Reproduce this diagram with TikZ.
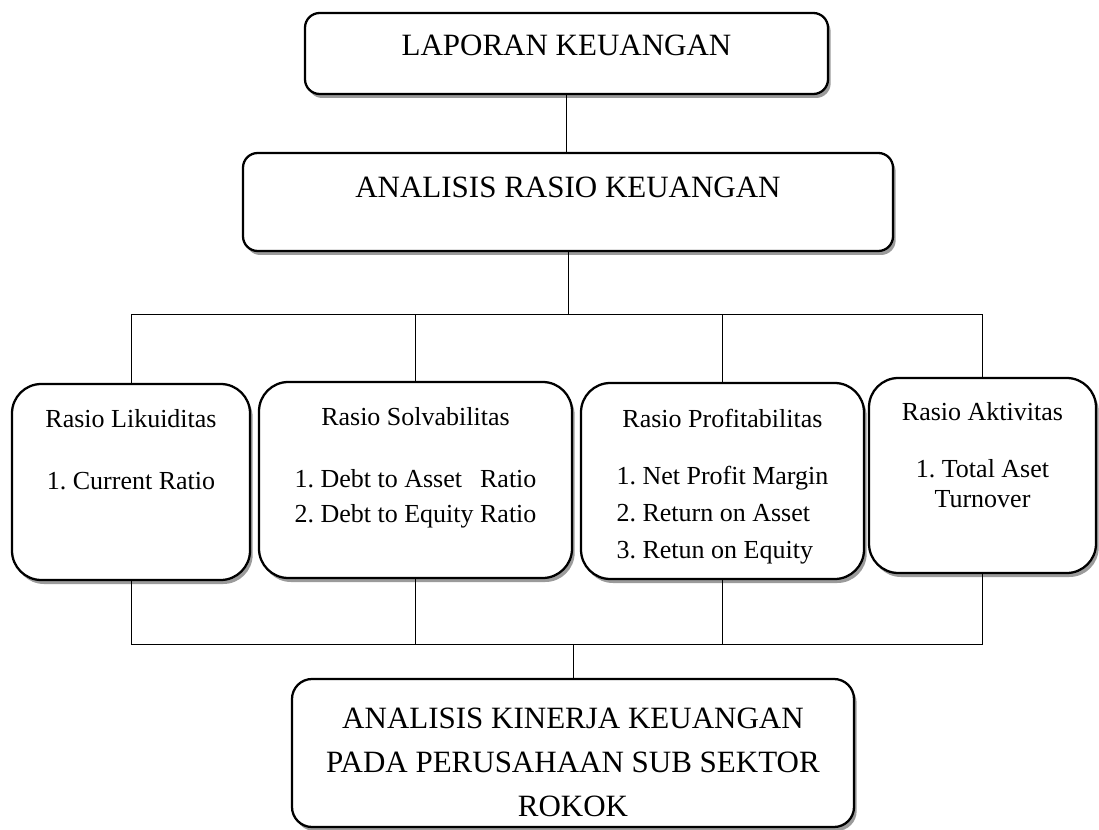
\documentclass[tikz,border=0pt]{standalone}
\usepackage{fontspec}
\usepackage{calc}
\setmainfont{Liberation Serif}
\frenchspacing
\definecolor{shade}{RGB}{155,155,155}
\usetikzlibrary{positioning,shadows}
\newcommand*{\bigtext}{\fontsize{23.25pt}{33pt}\selectfont}
\newcommand*{\smalltext}{\fontsize{19.5pt}{26.25pt}\selectfont}
% text block: height, width, first baseline, content
\newcommand*{\boxtext}[4]{\parbox[c][#1][t]{#2}{\centering\rule{0pt}{#3}#4}}
\tikzset{%
  panel/.style={draw, line width=1.7pt, rounded corners=#1, fill=white, inner sep=0pt,
    drop shadow={shadow xshift=2pt, shadow yshift=-3pt, fill=shade, opacity=1}},% rounded box
  panel/.default=11pt,
  link/.style={line width=0.6pt}% connector line
}

\begin{document}
\begin{tikzpicture}[x=0.75pt, y=-0.75pt]
\useasboundingbox (0,0) rectangle (1099,830);

\node[panel] (laporan) at (566.5,53.5) {\boxtext{60.75pt}{392.25pt}{32.25pt}{\bigtext LAPORAN KEUANGAN}};
\node[panel] (rasio) at (568,202) {\boxtext{73.5pt}{487.5pt}{33.75pt}{\bigtext ANALISIS RASIO KEUANGAN}};

\node[panel=22pt] (likuid) at (131,482) {\boxtext{147pt}{178.5pt}{32.25pt}{\smalltext Rasio Likuiditas\\[20.25pt]1. Current Ratio}};
\node[panel=22pt] (solva) at (415.5,480) {\boxtext{147pt}{234.75pt}{32.25pt}{\smalltext Rasio Solvabilitas\\[20.25pt]%
  \makebox[\widthof{2. Debt to Equity Ratio}][l]{1. Debt to Asset\hfill Ratio}\\2. Debt to Equity Ratio}};
\node[panel=22pt] (profit) at (722.5,481) {\boxtext{147pt}{212.25pt}{33pt}{\fontsize{19.5pt}{28pt}\selectfont Rasio Profitabilitas\\[14.75pt]%
  1. Net Profit Margin\\
  \makebox[\widthof{1. Net Profit Margin}][l]{2. Return on Asset}\\
  \makebox[\widthof{1. Net Profit Margin}][l]{3. Retun on Equity}}};
\node[panel=22pt] (aktiv) at (982.5,475.5) {\boxtext{146.25pt}{170.25pt}{31.5pt}{\fontsize{19.5pt}{22.5pt}\selectfont Rasio Aktivitas\\[20.25pt]1. Total Aset\\Turnover}};

\node[panel=15pt] (kinerja) at (573,753) {\boxtext{111pt}{421.5pt}{36.75pt}{\bigtext ANALISIS KINERJA KEUANGAN\\PADA PERUSAHAAN SUB SEKTOR\\ROKOK}};

\draw[link] (laporan.south) -- (laporan.south |- rasio.north);
\draw[link] (rasio.south) -- ++(0,62) coordinate (fork);
\draw[link] (fork -| likuid.north) -- (fork -| aktiv.north);
\foreach \n in {likuid,solva,profit,aktiv}
  \draw[link] (fork -| \n.north) -- (\n.north);

\draw[link] (kinerja.north) -- ++(0,-33) coordinate (join);
\draw[link] (join -| likuid.south) -- (join -| aktiv.south);
\foreach \n in {likuid,solva,profit,aktiv}
  \draw[link] (\n.south) -- (join -| \n.south);

\end{tikzpicture}
\end{document}
